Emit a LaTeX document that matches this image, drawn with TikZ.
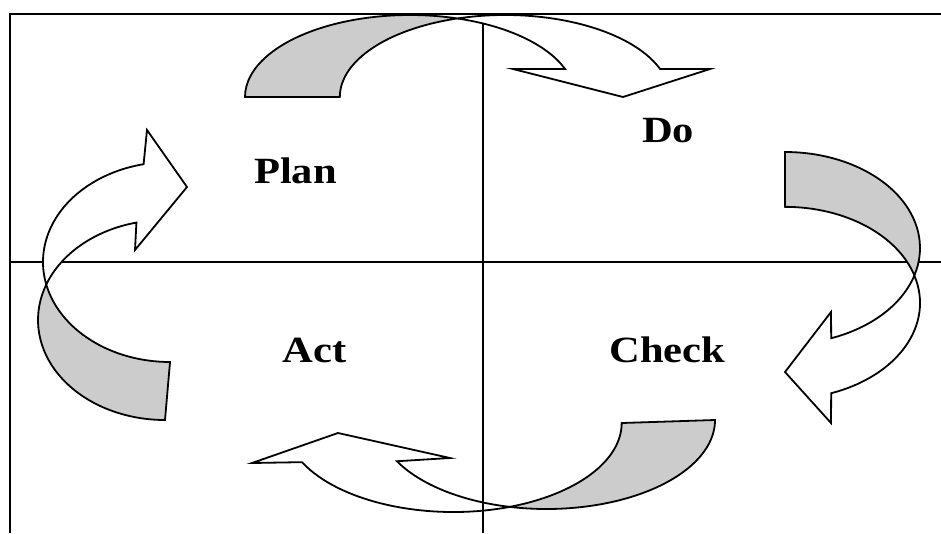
\documentclass[tikz,border=0pt]{standalone}
\usepackage{fontspec}
\setmainfont{Liberation Serif}
\usetikzlibrary{calc}
\definecolor{backgrey}{RGB}{204,204,204}
\tikzset{
  band/.style={draw=black, line width=1.8pt, line join=miter},
  backface/.style={band, fill=backgrey},
  frontface/.style={band, fill=white},
  divider/.style={draw=black, line width=1.8pt},
  frame/.style={draw=black, line width=2.4pt},
  phase/.style={inner sep=0pt, anchor=base, font=\fontsize{37}{40}\selectfont\bfseries},
}
\newcommand{\phasetext}[1]{\scalebox{1.15}[1]{#1}}
\begin{document}
\begin{tikzpicture}[x=1pt, y=-1pt]
\useasboundingbox (0,0) rectangle (941,533);

% ---- bottom arrow (Check -> Act) ----
\coordinate (bA) at (546.4,420);
\coordinate (bB) at (453.4,423);
\path[backface] ($(bA)+(0:168.6 and 89)$)
  arc[start angle=0, end angle=102.6, x radius=168.6, y radius=89]
  arc[start angle=70.4, end angle=0, x radius=168.6, y radius=89] -- cycle;
\path[frontface] ($(bB)+(70.4:168.6 and 89)$)
  arc[start angle=70.4, end angle=153.9, x radius=168.6, y radius=89]
  -- (252,463) -- (338,433) -- (450,458)
  -- ($(bA)+(152.4:168.6 and 89)$)
  arc[start angle=152.4, end angle=102.6, x radius=168.6, y radius=89] -- cycle;

% ---- dividers ----
\draw[divider] (10,262) -- (941,262);
\draw[divider] (483,14) -- (483,533);

% ---- left arrow (Act -> Plan) ----
\coordinate (lA) at (165,320);
\coordinate (lB) at (170,262);
\path[backface] ($(lA)+(90:127 and 100)$)
  arc[start angle=90, end angle=200.8, x radius=127, y radius=100]
  arc[start angle=167, end angle=90, x radius=127, y radius=100] -- cycle;
\path[frontface] ($(lB)+(167:127 and 100)$)
  arc[start angle=167, end angle=258, x radius=127, y radius=100]
  -- (147,130) -- (187,187) -- (135,250)
  -- ($(lA)+(257:127 and 100)$)
  arc[start angle=257, end angle=200.8, x radius=127, y radius=100] -- cycle;

% ---- right arrow (Do -> Check) ----
\coordinate (rA) at (785,248);
\coordinate (rB) at (785,303);
\path[backface] ($(rA)+(270:135 and 96)$)
  arc[start angle=270, end angle=376.6, x radius=135, y radius=96]
  arc[start angle=343.4, end angle=270, x radius=135, y radius=96] -- cycle;
\path[frontface] ($(rB)+(343.4:135 and 96)$)
  arc[start angle=343.4, end angle=430, x radius=135, y radius=96]
  -- (831,423) -- (785,372) -- (831,312)
  -- ($(rA)+(70:135 and 96)$)
  arc[start angle=430, end angle=376.6, x radius=135, y radius=96] -- cycle;

% ---- top arrow (Plan -> Do) ----
\coordinate (tA) at (410,97);
\coordinate (tB) at (505,97);
\path[backface] ($(tA)+(180:165 and 82)$)
  arc[start angle=180, end angle=286.7, x radius=165, y radius=82]
  arc[start angle=253.3, end angle=180, x radius=165, y radius=82] -- cycle;
\path[frontface] ($(tB)+(253.3:165 and 82)$)
  arc[start angle=253.3, end angle=340, x radius=165, y radius=82]
  -- (710,69) -- (623,97) -- (513,69)
  -- ($(tA)+(340:165 and 82)$)
  arc[start angle=340, end angle=286.7, x radius=165, y radius=82] -- cycle;

% ---- frame ----
\draw[frame] (10,533) -- (10,14) -- (941,14);

% ---- labels ----
\node[phase] (plan)  at (295.5,183) {\phasetext{Plan}};
\node[phase] (do)    at (668,142)   {\phasetext{Do}};
\node[phase] (act)   at (314.5,362) {\phasetext{Act}};
\node[phase] (check) at (667.5,362) {\phasetext{Check}};
\end{tikzpicture}
\end{document}
